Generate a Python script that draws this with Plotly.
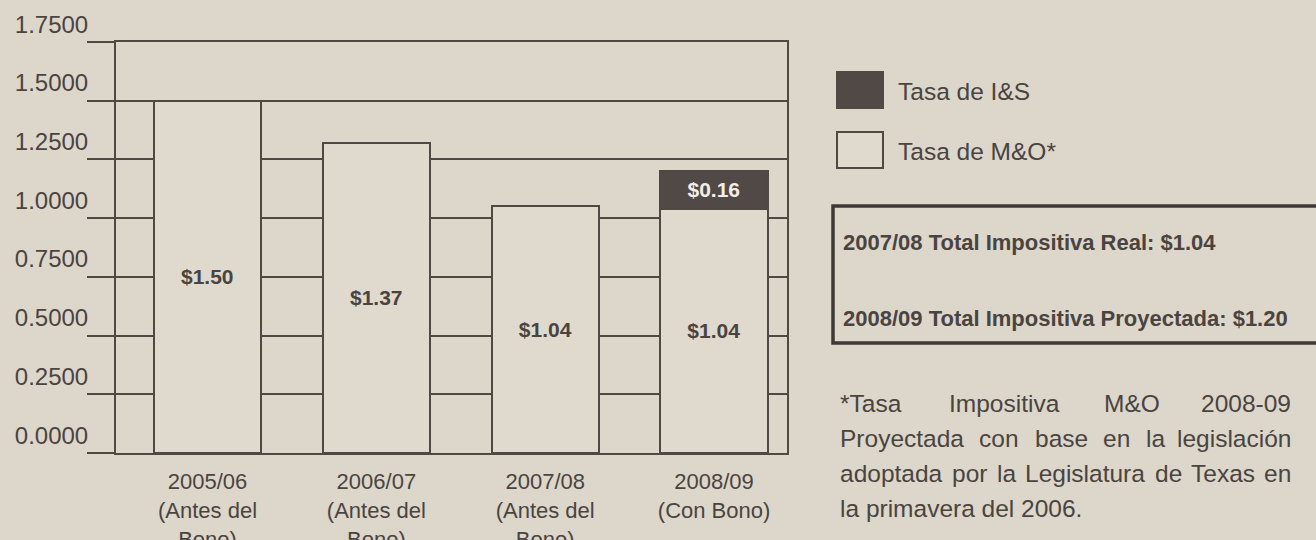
import plotly.graph_objects as go

# ---- data ----
categories = ["2005/06<br>(Antes del<br>Bono)", "2006/07<br>(Antes del<br>Bono)",
              "2007/08<br>(Antes del<br>Bono)", "2008/09<br>(Con Bono)"]
mo_values = [1.50, 1.32, 1.05, 1.04]
mo_labels = ["$1.50", "$1.37", "$1.04", "$1.04"]
is_values = [None, None, None, 0.16]
is_labels = ["", "", "", "$0.16"]
y_ticks = [0, 0.25, 0.5, 0.75, 1.0, 1.25, 1.5, 1.75]
legend_names = ["Tasa de I&S", "Tasa de M&O*"]
box_lines = ["2007/08 Total Impositiva Real: $1.04",
             "2008/09 Total Impositiva Proyectada: $1.20"]
footnote_lines = [
    "*Tasa Impositiva M&O 2008-09",
    "Proyectada con base en la legislación",
    "adoptada por la Legislatura de Texas en",
    "la primavera del 2006.",
]

# ---- style ----
FONT = "Liberation Sans, Arial, sans-serif"
BG = "#ddd6cb"
BAR_FILL = "#e0d9ce"
DARK = "#504945"
LINE = "#4f4843"
TEXT = "#4a4440"

W, H = 1316, 540
L, R, T, B = 116, 787, 42, 453  # plot area in pixels


def px(x):
    return (x - L) / (R - L)


def py(y):
    return (B - y) / (B - T)


# approximate Arial / Liberation Sans advance widths (per 1000 em) for justification
ARIAL_W = {" ": 278, "*": 389, "&": 667, "-": 333, ".": 278,
           "T": 611, "I": 278, "M": 833, "O": 778, "P": 667, "L": 556, "E": 667,
           "a": 556, "b": 556, "c": 500, "d": 556, "e": 556, "g": 556, "i": 222,
           "l": 222, "m": 833, "n": 556, "o": 556, "ó": 556, "p": 556, "r": 333,
           "s": 500, "t": 278, "u": 556, "v": 500, "x": 500, "y": 500}


def text_w(s, size):
    return sum(ARIAL_W.get(ch, 556) for ch in s) * size / 1000.0


x_idx = list(range(len(categories)))

fig = go.Figure()
fig.add_trace(go.Bar(
    x=x_idx, y=mo_values, name=legend_names[1], width=0.635,
    marker=dict(color=BAR_FILL, line=dict(color=LINE, width=2.5)),
    text=mo_labels, textposition="inside", insidetextanchor="middle",
    textfont=dict(family=FONT, size=21, color=TEXT, weight="bold"),
    showlegend=False,
))
fig.add_trace(go.Bar(
    x=x_idx, y=is_values, name=legend_names[0], width=0.635,
    marker=dict(color=DARK, line=dict(color=LINE, width=2.5)),
    text=is_labels, textposition="inside", insidetextanchor="middle",
    textfont=dict(family=FONT, size=21, color="#f2ede6", weight="bold"),
    showlegend=False,
))

fig.update_layout(
    width=W, height=H,
    margin=dict(l=L, r=W - R, t=T, b=H - B, autoexpand=False),
    paper_bgcolor=BG, plot_bgcolor=BG,
    barmode="stack", bargap=0,
    uniformtext=dict(minsize=21, mode="show"),
    font=dict(family=FONT, color=TEXT),
)
fig.update_xaxes(
    tickvals=x_idx, ticktext=categories,
    range=[-0.542, 3.432], automargin=False,
    showgrid=False, zeroline=False,
    showline=True, mirror=True, linecolor=LINE, linewidth=2,
    ticks="", ticklabelstandoff=8,
    tickfont=dict(family=FONT, size=22, color=TEXT),
)
fig.update_yaxes(
    range=[0, 1.75], tickvals=y_ticks, tickformat=".4f", automargin=False,
    showgrid=True, gridcolor=LINE, gridwidth=2,
    zeroline=False,
    showline=True, mirror=True, linecolor=LINE, linewidth=2,
    ticks="outside", ticklen=27, tickwidth=2, tickcolor=LINE,
    ticklabelposition="outside top", ticklabelstandoff=21,
    tickfont=dict(family=FONT, size=24, color=TEXT),
)

shapes = []
annotations = []

# legend (manual, large swatches)
leg_items = [(legend_names[0], DARK, 72, 108, 92), (legend_names[1], BAR_FILL, 132, 168, 151)]
for name, fill, y0, y1, yc in leg_items:
    shapes.append(dict(type="rect", xref="paper", yref="paper",
                       x0=px(837), x1=px(883), y0=py(y1), y1=py(y0),
                       fillcolor=fill, line=dict(color=LINE, width=2)))
    annotations.append(dict(xref="paper", yref="paper", x=px(896), y=py(yc),
                            xanchor="left", yanchor="middle", showarrow=False,
                            text=name, font=dict(family=FONT, size=24.5, color=TEXT)))

# totals box
shapes.append(dict(type="rect", xref="paper", yref="paper",
                   x0=px(833), x1=px(1330), y0=py(343), y1=py(206),
                   fillcolor="rgba(0,0,0,0)", line=dict(color="#3f3834", width=3.5)))
for txt, yc in zip(box_lines, [243, 318]):
    annotations.append(dict(xref="paper", yref="paper", x=px(841), y=py(yc),
                            xanchor="left", yanchor="middle", showarrow=False,
                            text=txt, font=dict(family=FONT, size=22, color=TEXT, weight="bold")))

# footnote: first three lines justified between x=838 and x=1293
FN_SIZE = 24.5
FN_X0, FN_X1 = 838, 1293
foot_y = [403, 438, 473, 508]
for i, line in enumerate(footnote_lines):
    words = line.split(" ")
    if i < 3 and len(words) > 1:
        widths = [text_w(wd, FN_SIZE) for wd in words]
        gap = (FN_X1 - FN_X0 - sum(widths)) / (len(words) - 1)
        xcur = FN_X0
        for j, wd in enumerate(words):
            if j == len(words) - 1:
                xa, xv = "right", FN_X1
            else:
                xa, xv = "left", xcur
            annotations.append(dict(xref="paper", yref="paper", x=px(xv), y=py(foot_y[i]),
                                    xanchor=xa, yanchor="middle", showarrow=False,
                                    text=wd, font=dict(family=FONT, size=FN_SIZE, color=TEXT)))
            xcur += widths[j] + gap
    else:
        annotations.append(dict(xref="paper", yref="paper", x=px(FN_X0), y=py(foot_y[i]),
                                xanchor="left", yanchor="middle", showarrow=False,
                                text=line, font=dict(family=FONT, size=FN_SIZE, color=TEXT)))

fig.update_layout(shapes=shapes, annotations=annotations)
fig.write_html("out.html", config={"displayModeBar": False},
               post_script="document.body.style.margin='0';")
